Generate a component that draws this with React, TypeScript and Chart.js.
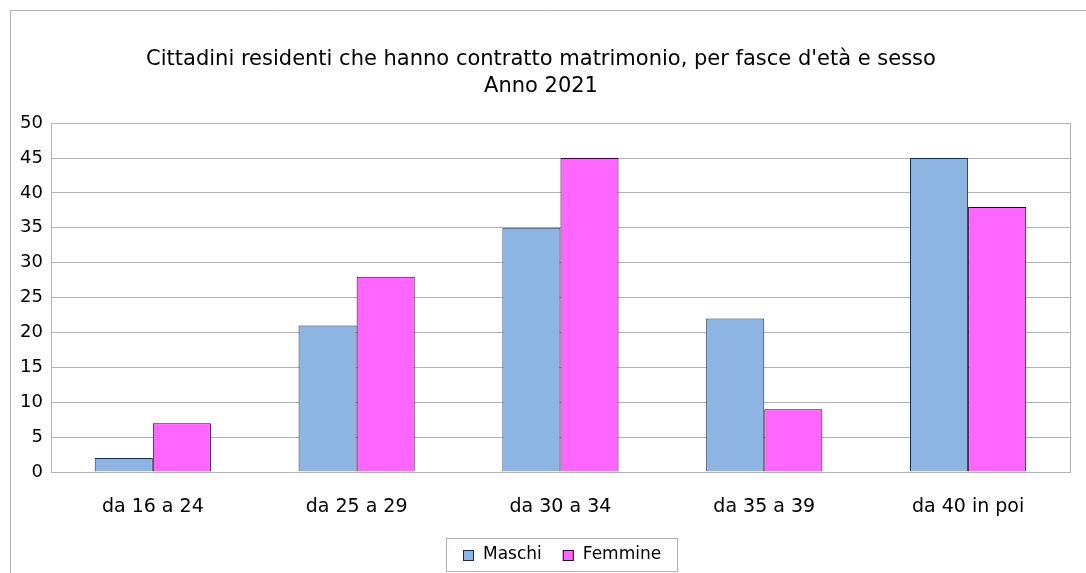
import React, { useEffect, useRef } from "react";
import { Chart, registerables } from "chart.js";

Chart.register(...registerables);

const categories = ["da 16 a 24", "da 25 a 29", "da 30 a 34", "da 35 a 39", "da 40 in poi"];
const maschi = [2, 21, 35, 22, 45];
const femmine = [7, 28, 45, 9, 38];
const titleLines = ["Cittadini residenti che hanno contratto matrimonio, per fasce d'età e sesso", "Anno 2021"];
const seriesNames = ["Maschi", "Femmine"];

const FONT = "'DejaVu Sans', Verdana, sans-serif";
const GRID = "#b3b3b3";

const framePlugin = {
  id: "frame",
  beforeDraw(chart: any) {
    const ctx = chart.ctx;
    ctx.save();
    ctx.fillStyle = "#ffffff";
    ctx.fillRect(0, 0, chart.width, chart.height);
    ctx.strokeStyle = GRID;
    ctx.lineWidth = 1;
    ctx.beginPath();
    ctx.moveTo(10.5, chart.height);
    ctx.lineTo(10.5, 10.5);
    ctx.lineTo(chart.width, 10.5);
    ctx.stroke();
    ctx.restore();
  },
  beforeDatasetsDraw(chart: any) {
    const { ctx, chartArea } = chart;
    ctx.save();
    ctx.strokeStyle = GRID;
    ctx.lineWidth = 1;
    ctx.strokeRect(
      Math.round(chartArea.left) + 0.5,
      Math.round(chartArea.top) + 0.5,
      Math.round(chartArea.right - chartArea.left),
      Math.round(chartArea.bottom - chartArea.top)
    );
    ctx.restore();
  },
  afterDraw(chart: any) {
    // legend in a bordered box, centred under the plot area
    const { ctx, chartArea } = chart;
    const ds = chart.data.datasets;
    ctx.save();
    ctx.font = "17px " + FONT;
    ctx.textBaseline = "middle";
    const widths = ds.map((d: any) => ctx.measureText(d.label).width);
    const padL = 17, padR = 16, box = 11, gapText = 9, gapItem = 21;
    let total = padL + padR;
    widths.forEach((w: number, i: number) => {
      total += box + gapText + w + (i > 0 ? gapItem : 0);
    });
    const cx = (chartArea.left + chartArea.right) / 2 + 1.5;
    const x0 = Math.round(cx - total / 2);
    const y0 = 538, h = 33;
    ctx.strokeStyle = GRID;
    ctx.lineWidth = 1;
    ctx.strokeRect(x0 + 0.5, y0 + 0.5, Math.round(total), h);
    let x = x0 + padL;
    const cy = y0 + h / 2 + 0.5;
    ds.forEach((d: any, i: number) => {
      if (i > 0) x += gapItem;
      ctx.fillStyle = d.backgroundColor;
      ctx.fillRect(x, Math.round(cy - box / 2), box, box);
      ctx.strokeStyle = d.borderColor;
      ctx.strokeRect(x + 0.5, Math.round(cy - box / 2) + 0.5, box - 1, box - 1);
      x += box + gapText;
      ctx.fillStyle = "#000";
      ctx.fillText(d.label, x, cy);
      x += widths[i];
    });
    ctx.restore();
  },
};

export default function App() {
  const ref = useRef<HTMLCanvasElement | null>(null);
  useEffect(() => {
    if (!ref.current) return;
    const chart = new Chart(ref.current, {
      type: "bar",
      data: {
        labels: categories,
        datasets: [
          {
            label: seriesNames[0],
            data: maschi,
            backgroundColor: "#8eb4e3",
            borderColor: "#1f2c3f",
            borderWidth: 1,
          },
          {
            label: seriesNames[1],
            data: femmine,
            backgroundColor: "#ff66ff",
            borderColor: "#2a0428",
            borderWidth: 1,
          },
        ],
      },
      options: {
        animation: false,
        responsive: false,
        maintainAspectRatio: false,
        layout: { padding: { left: 12, right: 16, top: 0, bottom: 0 } },
        datasets: { bar: { categoryPercentage: 0.57, barPercentage: 1.0 } },
        plugins: {
          title: {
            display: true,
            text: titleLines,
            color: "#000",
            font: { family: FONT, size: 21, weight: "normal", lineHeight: 1.29 },
            padding: { top: 46, bottom: 23 },
          },
          legend: { display: false },
          tooltip: { enabled: false },
        },
        scales: {
          x: {
            grid: { display: false },
            border: { display: false },
            ticks: { color: "#000", font: { family: FONT, size: 19 }, padding: 16 },
            afterFit(scale: any) {
              scale.height = 101;
            },
          },
          y: {
            min: 0,
            max: 50,
            ticks: { stepSize: 5, color: "#000", font: { family: FONT, size: 18 }, padding: 8 },
            grid: { color: GRID, drawTicks: false },
            border: { display: false },
          },
        },
      },
      plugins: [framePlugin],
    });
    return () => chart.destroy();
  }, []);
  return (
    <div style={{ position: "absolute", left: 0, top: 0, width: 1086, height: 573 }}>
      <canvas ref={ref} width={1086} height={573} style={{ width: 1086, height: 573 }} />
    </div>
  );
}
